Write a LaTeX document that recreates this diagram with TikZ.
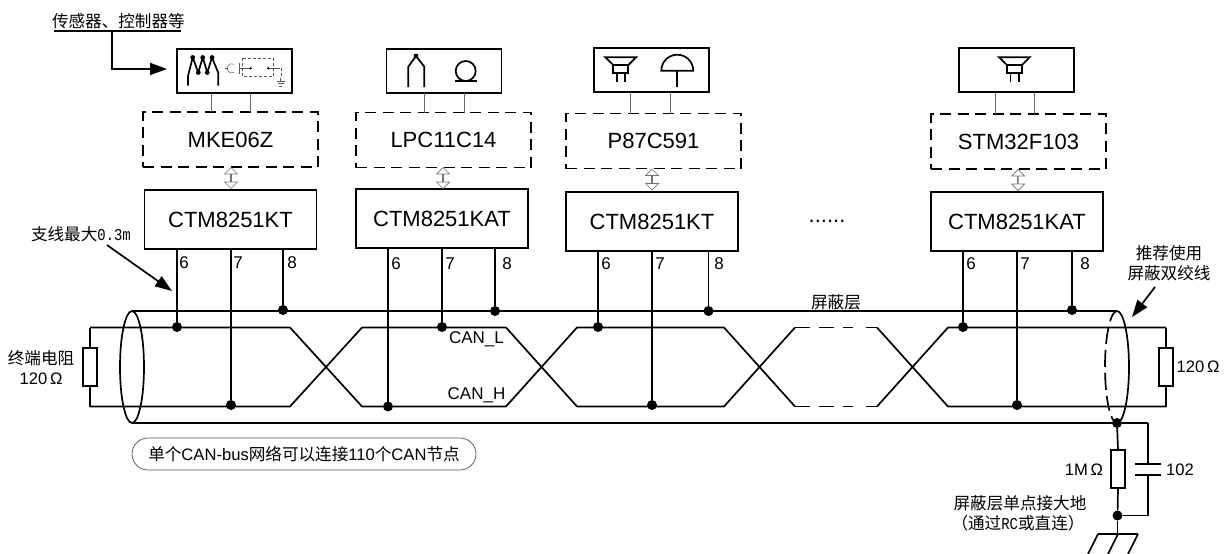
\documentclass[tikz,border=0pt]{standalone}
\usepackage{fontspec}
\usepackage{graphicx}
\setmainfont{Liberation Sans}
\newfontfamily\cjk{Noto Sans CJK SC}
\newfontfamily\monof{Liberation Mono}
\newcommand{\narrowmono}[1]{\scalebox{0.84}[1]{\monof #1}}
\usetikzlibrary{arrows.meta,shapes.arrows,shapes.geometric}
\tikzset{
  wire/.style={line width=1.7pt,draw=black},
  greywire/.style={line width=1pt,draw=black!60},
  gapwire/.style={line width=1.7pt,draw=black,dash pattern=on 15pt off 9pt on 15pt off 9pt on 10pt off 13pt on 11pt},
  lead/.style={line width=1.7pt,draw=black,-{Triangle[length=17pt,width=12pt]}},
  sensorbox/.style={draw,line width=1.7pt,minimum width=115pt,minimum height=44pt,inner sep=0pt,outer sep=0pt},
  mcubox/.style={draw,line width=1.7pt,dash pattern=on 11pt off 6.5pt,minimum width=175pt,minimum height=55pt,inner sep=0pt,outer sep=0pt,font=\fontsize{22}{24}\selectfont},
  ctmbox/.style={draw,line width=1.7pt,minimum width=172pt,minimum height=59pt,inner sep=0pt,outer sep=0pt,font=\fontsize{22}{24}\selectfont},
  resbox/.style={draw,line width=1.7pt,fill=white,minimum width=14pt,minimum height=38pt,inner sep=0pt,outer sep=0pt},
  dot/.style={circle,fill=black,minimum size=10pt,inner sep=0pt,outer sep=0pt},
  dbl/.style={double arrow,draw=black!55,fill=white,line width=.7pt,rotate=90,minimum height=21pt,minimum width=13pt,inner sep=0pt,
    double arrow head extend=3.5pt,double arrow tip angle=90},
  lbl/.style={inner sep=0pt,outer sep=0pt,font=\fontsize{16.6}{20}\selectfont},
  pin/.style={inner sep=0pt,outer sep=0pt,font=\fontsize{17}{18}\selectfont},
  icon/.style={line width=1.7pt,line join=miter},
  faint/.style={line width=.5pt,draw=black!65},
}
\newcommand{\speakericon}[1]{%
  \begin{scope}[shift={(#1,0)},icon]
    \draw (605.3,57.3) -- (636,57.3) -- (628.3,65) -- (613.3,65) -- cycle;
    \draw (613.3,65) -- (613.3,73.3) -- (628.3,73.3) -- (628.3,65);
    \draw (616.7,73.3) -- (616.7,81.7) (625,73.3) -- (625,81.7);
  \end{scope}}
\begin{document}
\begin{tikzpicture}[x=1pt,y=-1pt]
\useasboundingbox (0,0) rectangle (1227,554);

% --- device columns ---
\node[sensorbox] (s1) at (234.5,71) {};
\node[sensorbox] (s2) at (444,71) {};
\node[sensorbox] (s3) at (651.5,70) {};
\node[sensorbox] (s4) at (1016.5,70) {};
\node[mcubox] (m1) at (230.5,139.5) {MKE06Z};
\node[mcubox] (m2) at (443.5,140) {LPC11C14};
\node[mcubox] (m3) at (653.5,141) {P87C591};
\node[mcubox] (m4) at (1018.5,141.5) {STM32F103};
\node[ctmbox] (c1) at (230.5,219.5) {CTM8251KT};
\node[ctmbox] (c2) at (442,218.5) {CTM8251KAT};
\node[ctmbox] (c3) at (652,221.5) {CTM8251KT};
\node[ctmbox] (c4) at (1017,221.5) {CTM8251KAT};
\node[inner sep=0pt,font=\fontsize{22}{24}\selectfont] (more) at (827,221) {......};

% sensor to MCU wires
\draw[greywire] (211,0 |- s1.south) -- (211,0 |- m1.north);
\draw[greywire] (250,0 |- s1.south) -- (250,0 |- m1.north);
\draw[greywire] (424,0 |- s2.south) -- (424,0 |- m2.north);
\draw[greywire] (464,0 |- s2.south) -- (464,0 |- m2.north);
\draw[greywire] (630,0 |- s3.south) -- (630,0 |- m3.north);
\draw[greywire] (670,0 |- s3.south) -- (670,0 |- m3.north);
\draw[greywire] (995,0 |- s4.south) -- (995,0 |- m4.north);
\draw[greywire] (1034,0 |- s4.south) -- (1034,0 |- m4.north);

% hollow double arrows MCU <-> CTM
\node[dbl] (d1) at (231,178) {};
\node[dbl] (d2) at (443,178) {};
\node[dbl] (d3) at (652,179.5) {};
\node[dbl] (d4) at (1018,180) {};

% --- bus coordinates ---
\def\yS{311}\def\yL{327.5}\def\yH{406.5}\def\yB{423}
\coordinate (lt) at (132,\yS);
\coordinate (lb) at (132,\yB);
\coordinate (rt) at (1117,\yS);
\coordinate (rb) at (1117,\yB);
\coordinate (capr) at (1148,\yB);

% shield
\draw[wire] (lt) -- (rt);
\draw[wire] (lb) -- (capr);
\node[draw,ellipse,line width=1.7pt,minimum width=24pt,minimum height=112pt,inner sep=0pt,outer sep=0pt] (ell) at (132,367) {};
\draw[wire] (rt) arc[start angle=-90,end angle=90,x radius=12,y radius=56];
\draw[wire,dash pattern=on 13pt off 6pt on 17pt off 6pt on 17pt off 6pt on 17pt off 6pt on 15pt off 6pt on 20pt] (rt) arc[start angle=-90,end angle=-270,x radius=12,y radius=56];

% twisted pair
\draw[wire,line join=round] (90,\yL) -- (290,\yL) -- (362,\yH) -- (506,\yH) -- (577,\yL) -- (724,\yL) -- (795,\yH);
\draw[wire,line join=round] (90,\yH) -- (290,\yH) -- (362,\yL) -- (506,\yL) -- (577,\yH) -- (724,\yH) -- (795,\yL);
\draw[gapwire] (795,\yL) -- (877,\yL);
\draw[gapwire] (795,\yH) -- (877,\yH);
\draw[wire,line join=round] (877,\yL) -- (948,\yH) -- (1166,\yH);
\draw[wire,line join=round] (877,\yH) -- (948,\yL) -- (1166,\yL);

% terminating resistors
\node[resbox] (rl) at (90,367) {};
\node[resbox] (rr) at (1166,367) {};
\draw[wire] (90,\yL) -- (rl.north);
\draw[wire] (rl.south) -- (90,\yH);
\draw[wire] (1166,\yL) -- (rr.north);
\draw[wire] (rr.south) -- (1166,\yH);

% --- stubs and junctions ---
\node[dot] (j16) at (177,327) {};
\node[dot] (j17) at (231,405) {};
\node[dot] (j18) at (283,310) {};
\node[dot] (j26) at (388,406.5) {};
\node[dot] (j27) at (442,327) {};
\node[dot] (j28) at (495,311) {};
\node[dot] (j36) at (598,327) {};
\node[dot] (j37) at (652,405) {};
\node[dot] (j38) at (708.5,311) {};
\node[dot] (j46) at (963,327) {};
\node[dot] (j47) at (1017,405) {};
\node[dot] (j48) at (1072,310) {};
\foreach \c/\j in {c1/j16,c1/j17,c1/j18,c2/j26,c2/j27,c2/j28,c3/j36,c3/j37,c3/j38,c4/j46,c4/j47,c4/j48}
  \draw[wire] (\j |- \c.south) -- (\j);

% pin numbers
\node[pin] (p16) at (184,263) {6};
\node[pin] (p17) at (238,263) {7};
\node[pin] (p18) at (292,263) {8};
\node[pin] (p26) at (396,264) {6};
\node[pin] (p27) at (450,264) {7};
\node[pin] (p28) at (507,264) {8};
\node[pin] (p36) at (606,264) {6};
\node[pin] (p37) at (660,264) {7};
\node[pin] (p38) at (719,264) {8};
\node[pin] (p46) at (971,264) {6};
\node[pin] (p47) at (1025,264) {7};
\node[pin] (p48) at (1085,264) {8};

% --- ground branch ---
\node[dot] (jg) at (rb) {};
\node[resbox] (r1m) at (1118,469) {};
\node[dot] (jb) at (1117.5,515.5) {};
\coordinate (capt) at (1148,464);
\coordinate (capb) at (1148,475);
\draw[wire] (jg) -- (r1m.north);
\draw[wire] (r1m.south) -- (jb);
\draw[wire] (capr) -- (capt);
\draw[wire] (capb) -- (1148,515.5) -- (jb);
\draw[wire] (1135,464) -- (1161,464);
\draw[wire] (1135,475) -- (1161,475);
\coordinate (g0) at (1117.5,534);
\draw[wire] (jb) -- (g0);
\draw[wire] (1098,534) -- (1138,534);
\draw[wire] (1098,534) -- (1088,554);
\draw[wire] (1118,534) -- (1108,554);
\draw[wire] (1138,534) -- (1128,554);

% --- sensor icons ---
\begin{scope}[icon,line join=round]
  \draw (188,85.7) -- (188,76) -- (192.7,57.5) -- (198.3,72.5) -- (202.7,57.5) -- (207.3,72.5) -- (212,57.5) -- (218.3,73) -- (218.3,85.7);
  \foreach \p in {(192.7,57.5),(202.7,57.5),(212,57.5),(198.3,72.5),(207.3,72.5)}
    \fill \p circle[radius=2.4];
\end{scope}
\begin{scope}[faint]
  \draw[dash pattern=on 3pt off 2pt] (242.7,58.3) rectangle (273.3,76.7);
  \draw (225,68.3) -- (228,68.3);
  \draw (234,64.3) arc[start angle=-60,end angle=-300,radius=4.6];
  \draw (240,68.3) -- (250.7,68.3);
  \draw (239,63) -- (239,74);
  \draw (268.3,68.3) -- (276.7,68.3);
  \draw[dash pattern=on 3pt off 2pt] (276.7,68.3) -- (281.7,68.3) -- (281.7,78);
  \draw (280,78) -- (280,81);
  \draw (276.7,81) -- (285,81) (277.7,83.5) -- (283.5,83.5) (279,86) -- (282,86);
  \fill (250.7,68.3) circle[radius=1.3] (268.3,68.3) circle[radius=1.3];
\end{scope}
\begin{scope}[icon]
  \draw (408.3,87) -- (408.3,66.7) -- (416,56) -- (424.3,66.7) -- (424.3,87);
  \fill (416,56) circle[radius=2.4];
  \draw (465.7,71) circle[radius=10];
  \draw (455,81) -- (477,81);
\end{scope}
\speakericon{0}
\speakericon{393.7}
\begin{scope}[icon]
  \draw (661.3,70.7) arc[start angle=180,end angle=360,radius=16] -- cycle;
  \draw (677.3,70.7) -- (677.3,86.7);
\end{scope}

% --- labels and leaders ---
\node[lbl,anchor=west] (t1) at (52,21) {\cjk 传感器、控制器等};
\coordinate (u1) at (54,31);
\coordinate (u2) at (181,31);
\draw[wire] (u1) -- (u2);
\coordinate (a1m) at (112,69);
\draw[lead,shorten >=10pt] (112,31) -- (a1m) -- (s1.west |- a1m);
\node[lbl,anchor=west] (t2) at (31,234) {{\cjk 支线最大}\narrowmono{0.3m}};
\coordinate (a2s) at (107,245);
\coordinate (a2e) at (172,291);
\draw[lead] (a2s) -- (a2e);
\node[lbl,align=center] (t3) at (41,368) {{\cjk 终端电阻}\\120\,Ω};
\node[lbl] (t4) at (836,302) {\cjk 屏蔽层};
\node[pin] (t5) at (476.5,339) {CAN\_L};
\node[pin] (t6) at (476.5,395) {CAN\_H};
\node[draw=black!70,line width=.7pt,rounded corners=16pt,minimum width=344pt,minimum height=32pt,inner sep=0pt,font=\fontsize{16.6}{20}\selectfont] (t7) at (304,454) {{\cjk 单个}CAN-bus{\cjk 网络可以连接}110{\cjk 个}CAN{\cjk 节点}};
\node[lbl,align=center] (t8) at (1169,263.5) {\cjk 推荐使用\\\cjk 屏蔽双绞线};
\coordinate (a3s) at (1155,287);
\coordinate (a3e) at (1132,317);
\draw[lead] (a3s) -- (a3e);
\node[lbl] (t9) at (1198,367) {120\,Ω};
\node[lbl] (t10) at (1084,470) {1M\,Ω};
\node[lbl] (t11) at (1180,470) {102};
\node[lbl] (t12) at (1020,503) {\cjk 屏蔽层单点接大地};
\node[lbl] (t13) at (1018,523) {{\cjk （通过}\narrowmono{RC}{\cjk 或直连）}};
\end{tikzpicture}
\end{document}
